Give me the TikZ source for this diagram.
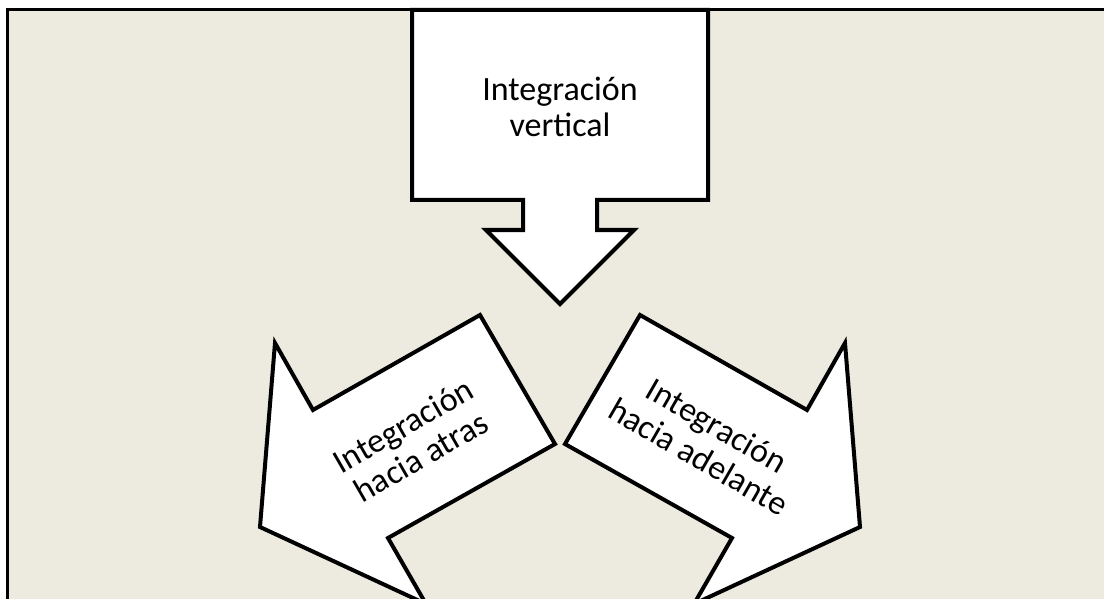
\documentclass[tikz,border=0pt]{standalone}
\usepackage{fontspec}
\setmainfont{Carlito}
\definecolor{paper}{RGB}{237,234,224}
\tikzset{
  arrowshape/.style={draw=black, fill=white, line width=4pt, line join=miter},
  label/.style={font=\fontsize{34}{36}\selectfont, align=center, inner sep=0pt},
}
\begin{document}
\begin{tikzpicture}[x=1pt,y=-1pt]
  \useasboundingbox (0,0) rectangle (1104,599);
  \clip (0,0) rectangle (1104,599);
  \fill[white] (0,0) rectangle (1104,599);
  % framed panel running past the right and bottom edges
  \draw[fill=paper, line width=3pt] (7.5,9.5) rectangle (1120,620);

  % box with a downward arrow
  \draw[arrowshape] (412,10) -- (708,10) -- (708,200) -- (597,200) -- (597,230)
    -- (634,230) -- (560,304) -- (486,230) -- (523,230) -- (523,200)
    -- (412,200) -- cycle;
  \node[label] (vert) at (560,107) {Integración\\vertical};

  % arrow pointing down-left
  \draw[arrowshape] (480,315) -- (555,444) -- (388,538) -- (426,604)
    -- (260,527) -- (275,343) -- (313,410) -- cycle;
  \node[label, rotate=30] (atras) at (412,441) {Integración\\hacia atras};

  % arrow pointing down-right
  \draw[arrowshape] (640,315) -- (565,444) -- (732,538) -- (694,604)
    -- (860,527) -- (845,343) -- (807,410) -- cycle;
  \node[label, rotate=-30] (adelante) at (708,441) {Integración\\hacia adelante};
\end{tikzpicture}
\end{document}
